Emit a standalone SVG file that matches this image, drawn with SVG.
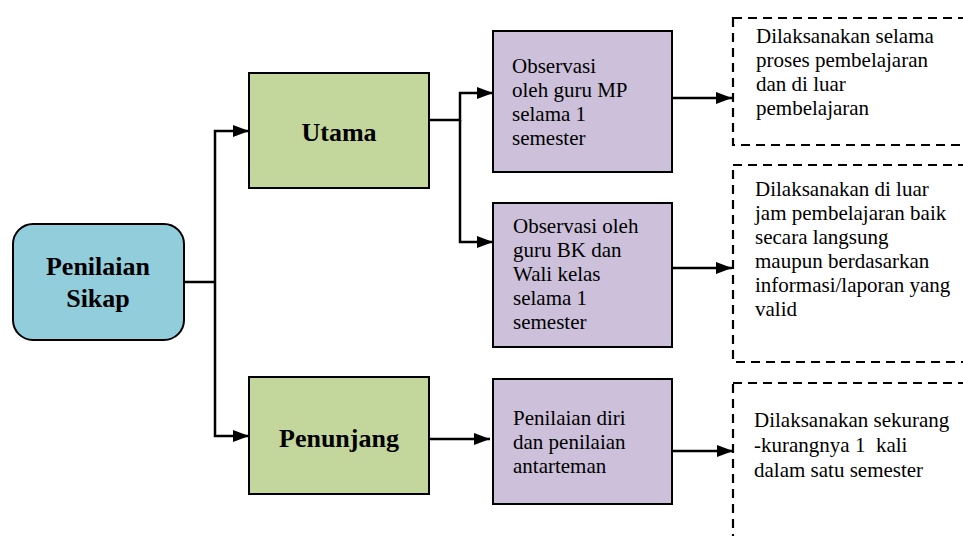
<svg xmlns="http://www.w3.org/2000/svg" width="963" height="536" viewBox="0 0 963 536">
<style>
.box{stroke:#000;stroke-width:2}
.blue{fill:#92CDDC}
.green{fill:#C3D69B}
.purple{fill:#CCC0DA}
.dash{fill:#fff;stroke:#000;stroke-width:2.2;stroke-dasharray:9 6}
.conn{fill:none;stroke:#000;stroke-width:2.5}
text{font-family:'Liberation Serif','Times New Roman',Tinos,'DejaVu Serif',serif;fill:#000}
.bold{font-weight:bold;font-size:26px;text-anchor:middle}
.txt{font-size:21px;white-space:pre}
</style>
<defs>
<marker id="ah" viewBox="0 0 16 12" refX="16" refY="6" markerWidth="16" markerHeight="12" markerUnits="userSpaceOnUse" orient="auto">
<path d="M0,0 L16,6 L0,12 z" fill="#000"/>
</marker>
</defs>
<rect width="963" height="536" fill="#fff"/>
<g id="connectors">
<path class="conn" d="M184,282 H215"/>
<path class="conn" d="M215,282 V131 H249" marker-end="url(#ah)"/>
<path class="conn" d="M215,282 V436 H249" marker-end="url(#ah)"/>
<path class="conn" d="M429,120 H460 V93 H493" marker-end="url(#ah)"/>
<path class="conn" d="M460,120 V242 H493" marker-end="url(#ah)"/>
<path class="conn" d="M429,439 H490" marker-end="url(#ah)"/>
<path class="conn" d="M672,98 H732" marker-end="url(#ah)"/>
<path class="conn" d="M672,268 H732" marker-end="url(#ah)"/>
<path class="conn" d="M672,451 H733" marker-end="url(#ah)"/>
</g>
<g id="penilaian-sikap">
<rect class="box blue" x="13" y="224" width="171" height="116" rx="20"/>
<text class="bold" x="98" y="275">Penilaian</text>
<text class="bold" x="98" y="307">Sikap</text>
</g>
<g id="utama">
<rect class="box green" x="249" y="73" width="180" height="115"/>
<text class="bold" x="339" y="141">Utama</text>
</g>
<g id="penunjang">
<rect class="box green" x="249" y="377" width="180" height="117"/>
<text class="bold" x="339" y="447">Penunjang</text>
</g>
<g id="observasi-mp">
<rect class="box purple" x="493" y="31" width="179" height="141"/>
<text class="txt" x="512" y="73">Observasi</text>
<text class="txt" x="512" y="97">oleh guru MP</text>
<text class="txt" x="512" y="121">selama 1</text>
<text class="txt" x="512" y="145">semester</text>
</g>
<g id="observasi-bk">
<rect class="box purple" x="493" y="203" width="179" height="144"/>
<text class="txt" x="513" y="233">Observasi oleh</text>
<text class="txt" x="513" y="257">guru BK dan</text>
<text class="txt" x="513" y="281">Wali kelas</text>
<text class="txt" x="513" y="305">selama 1</text>
<text class="txt" x="513" y="329">semester</text>
</g>
<g id="penilaian-diri">
<rect class="box purple" x="493" y="379" width="179" height="125"/>
<text class="txt" x="513" y="425">Penilaian diri</text>
<text class="txt" x="513" y="449">dan penilaian</text>
<text class="txt" x="513" y="473">antarteman</text>
</g>
<g id="ket-1">
<rect class="dash" x="733" y="18" width="260" height="127"/>
<text class="txt" x="756" y="43">Dilaksanakan selama</text>
<text class="txt" x="756" y="67">proses pembelajaran</text>
<text class="txt" x="756" y="91">dan di luar</text>
<text class="txt" x="756" y="115">pembelajaran</text>
</g>
<g id="ket-2">
<rect class="dash" x="733" y="165" width="260" height="197"/>
<text class="txt" x="755" y="196">Dilaksanakan di luar</text>
<text class="txt" x="755" y="220">jam pembelajaran baik</text>
<text class="txt" x="755" y="244">secara langsung</text>
<text class="txt" x="755" y="268">maupun berdasarkan</text>
<text class="txt" x="755" y="292">informasi/laporan yang</text>
<text class="txt" x="755" y="316">valid</text>
</g>
<g id="ket-3">
<rect class="dash" x="733" y="383" width="260" height="180"/>
<text class="txt" x="754" y="427">Dilaksanakan sekurang</text>
<text class="txt" x="754" y="452" xml:space="preserve">-kurangnya 1  kali</text>
<text class="txt" x="754" y="477">dalam satu semester</text>
</g>
</svg>
